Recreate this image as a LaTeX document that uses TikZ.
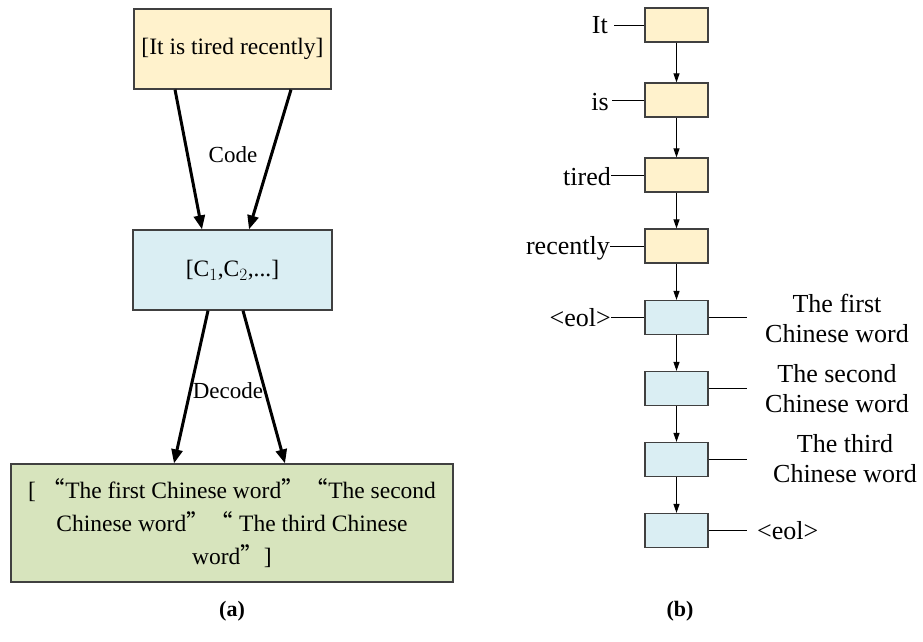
\documentclass[tikz,border=0pt]{standalone}
\usepackage{fontspec}
\setmainfont{Liberation Serif}
\newfontfamily\cjkq[RawFeature=+fwid]{Noto Sans CJK SC}
\usetikzlibrary{arrows.meta,positioning}
\definecolor{boxline}{HTML}{404040}
\definecolor{encfill}{HTML}{FFF2CC}
\definecolor{ctxfill}{HTML}{DAEEF3}
\definecolor{decfill}{HTML}{D7E4BD}
\newcommand{\openq}{{\cjkq “}}
\newcommand{\closeq}{{\cjkq ”}}
\tikzset{
  bigbox/.style={draw=boxline, line width=1.2pt, inner sep=0pt, align=center,
    font=\fontsize{23.5}{33}\selectfont},
  cell/.style={draw=boxline, line width=1.2pt, minimum width=63pt, minimum height=34pt, inner sep=0pt},
  fat/.style={line width=3pt, -{Triangle[length=14pt,width=11pt]}},
  thin/.style={line width=1pt, -{Triangle[length=9pt,width=6pt]}},
  tag/.style={font=\fontsize{23}{27}\selectfont, inner sep=0pt, align=center},
  word/.style={font=\fontsize{26}{30}\selectfont, inner sep=0pt, align=center},
  caption/.style={font=\bfseries\fontsize{22}{26}\selectfont, inner sep=0pt}
}
\begin{document}
\begin{tikzpicture}[x=1pt,y=-1pt]
\useasboundingbox (0,0) rectangle (923,641);

% ---- (a) encoder / decoder overview ----
\node[bigbox, fill=encfill, minimum width=197pt, minimum height=80pt] (src) at (232.5,49) {[It is tired recently]};
\node[bigbox, fill=ctxfill, minimum width=199pt, minimum height=80pt] (ctx) at (232.5,270) {[C$_1$,C$_2$,...]};
\node[bigbox, fill=decfill, minimum width=442pt, minimum height=118pt] (out) at (232,523)
  {[ \openq The first Chinese word\closeq\openq The second\\Chinese word\closeq\openq\ The third Chinese\\word\closeq]};

\draw[fat] ([xshift=-57.5pt]src.south) -- ([xshift=-30.5pt]ctx.north);
\draw[fat] ([xshift=58.5pt]src.south) -- ([xshift=16.5pt]ctx.north);
\node[tag] (code) at (233,155) {Code};

\draw[fat] ([xshift=-24.5pt]ctx.south) -- ([xshift=-58pt]out.north);
\draw[fat] ([xshift=10.5pt]ctx.south) -- ([xshift=53pt]out.north);
\node[tag] (decode) at (228,391) {Decode};

\node[caption] (capa) at (232,611) {(a)};

% ---- (b) unrolled sequence ----
\foreach \n/\y in {e1/25, e2/100, e3/175, e4/246}
  \node[cell, fill=encfill] (\n) at (676.5,\y) {};
\foreach \n/\y in {d1/317.5, d2/388.5, d3/459.5, d4/530.5}
  \node[cell, fill=ctxfill] (\n) at (676.5,\y) {};

\foreach \a/\b in {e1/e2, e2/e3, e3/e4, e4/d1, d1/d2, d2/d3, d3/d4}
  \draw[thin] (\a.south) -- (\b.north);

% input words
\node[word, anchor=east] (w1) at (608,25) {It};
\node[word, anchor=east] (w2) at (609,102) {is};
\node[word, anchor=east] (w3) at (611,177) {tired};
\node[word, anchor=east] (w4) at (610,248) {recently};
\node[word, anchor=east] (w5) at (611,318) {<eol>};
\draw[line width=1pt] ([xshift=6pt]w1.east |- e1.west) -- (e1.west);
\draw[line width=1pt] ([xshift=3pt]w2.east |- e2.west) -- (e2.west);
\draw[line width=1pt] (w3.east |- e3.west) -- (e3.west);
\draw[line width=1pt] (w4.east |- e4.west) -- (e4.west);
\draw[line width=1pt] (w5.east |- d1.west) -- (d1.west);

% output words
\coordinate (o1) at (747,317.5);
\coordinate (o2) at (747,388.5);
\coordinate (o3) at (747,459.5);
\coordinate (o4) at (747,530.5);
\foreach \n/\o in {d1/o1, d2/o2, d3/o3, d4/o4}
  \draw[line width=1pt] (\n.east) -- (\o);
\node[word] (t1) at (837,318) {The first\\Chinese word};
\node[word] (t2) at (837,389) {The second\\Chinese word};
\node[word] (t3) at (845,459) {The third\\Chinese word};
\node[word, anchor=west] (t4) at (757,530.5) {<eol>};

\node[caption] (capb) at (680,611) {(b)};
\end{tikzpicture}
\end{document}
